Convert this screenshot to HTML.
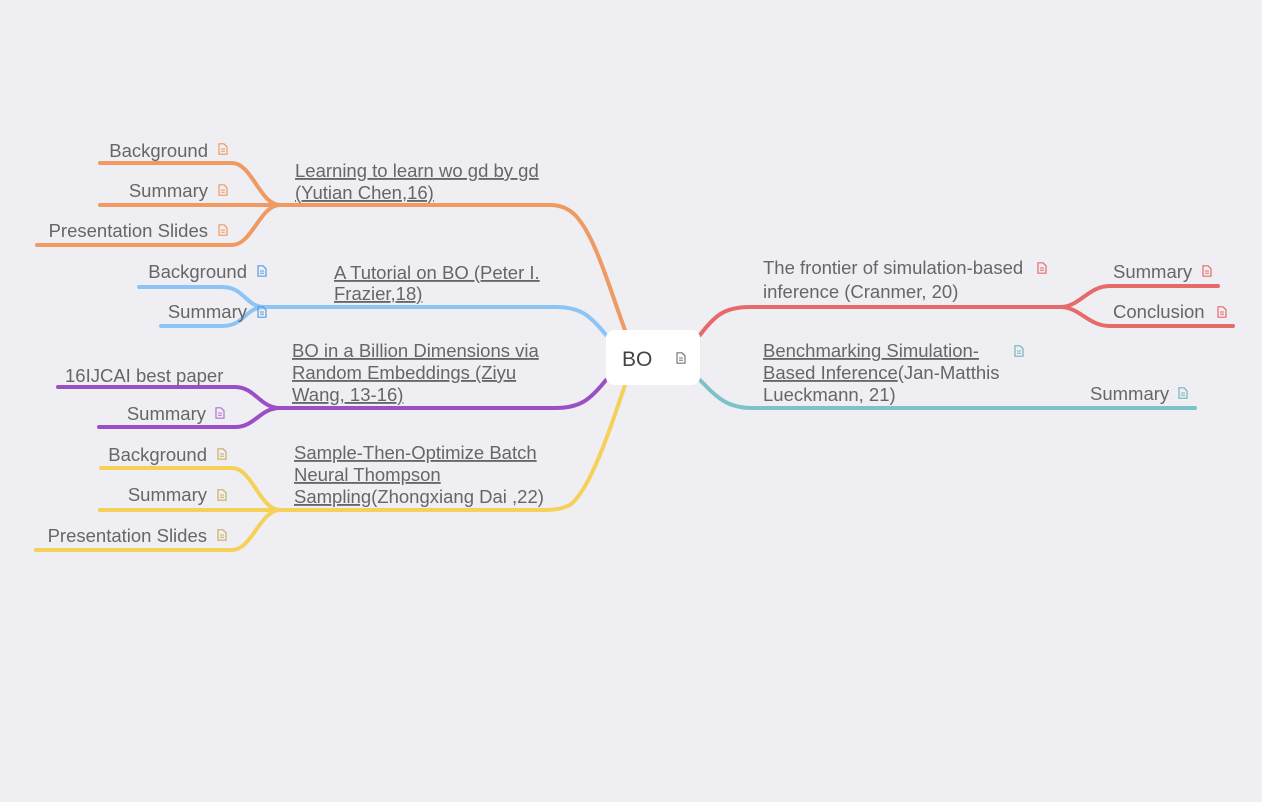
<!DOCTYPE html>
<html><head><meta charset="utf-8"><style>
body{margin:0;background:#efeef3;}
svg{display:block;font-family:"Liberation Sans",sans-serif;}
.t{font-size:18.5px;fill:#666;}
.u{text-decoration:underline;}
.l{fill:none;stroke-width:4;stroke-linecap:round;}
</style></head><body>
<svg width="1262" height="802" viewBox="0 0 1262 802">
<defs>
<symbol id="doc" viewBox="0 0 10 12"><path d="M1,0.8 H6 L9,3.8 V11.2 H1 Z" fill="none" stroke="currentColor" stroke-width="1.2"/><path d="M3,6 H7 M3,8.3 H7" stroke="currentColor" stroke-width="1"/></symbol>
</defs>
<rect width="1262" height="802" fill="#efeef3"/>

<!-- orange -->
<g color="#ef9a62">
<path class="l" stroke="#ef9a62" d="M625,330 C610,290 595,235 575,215 Q565,205 550,205 L100,205"/>
<path class="l" stroke="#ef9a62" d="M280,205 C260,205 252,163 232,163 L100,163"/>
<path class="l" stroke="#ef9a62" d="M280,205 C260,205 252,245 232,245 L37,245"/>
<text class="t u" x="295" y="177">Learning to learn wo gd by gd</text>
<text class="t u" x="295" y="199">(Yutian Chen,16)</text>
<text class="t" x="208" y="157" text-anchor="end">Background</text>
<text class="t" x="208" y="197" text-anchor="end">Summary</text>
<text class="t" x="208" y="237" text-anchor="end">Presentation Slides</text>
<use href="#doc" x="218" y="143" width="10" height="12"/><use href="#doc" x="218" y="184" width="10" height="12"/><use href="#doc" x="218" y="224" width="10" height="12"/>
</g>

<!-- blue -->
<g color="#5b9be0">
<path class="l" stroke="#8cc5f5" d="M606,335 C590,315 580,307 555,307 L265,307"/>
<path class="l" stroke="#8cc5f5" d="M265,307 C245,307 245,287 222,287 L139,287"/>
<path class="l" stroke="#8cc5f5" d="M265,307 C245,307 245,326 222,326 L161,326"/>
<text class="t u" x="334" y="279">A Tutorial on BO (Peter I.</text>
<text class="t u" x="334" y="300">Frazier,18)</text>
<text class="t" x="247" y="278" text-anchor="end">Background</text>
<text class="t" x="247" y="318" text-anchor="end">Summary</text>
<use href="#doc" x="257" y="265" width="10" height="12"/><use href="#doc" x="257" y="306" width="10" height="12"/>
</g>

<!-- purple -->
<g color="#b070d0">
<path class="l" stroke="#9b4fc4" d="M606,380 C590,400 580,408 555,408 L280,408"/>
<path class="l" stroke="#9b4fc4" d="M280,408 C260,408 255,387 235,387 L58,387"/>
<path class="l" stroke="#9b4fc4" d="M280,408 C260,408 255,427 235,427 L99,427"/>
<text class="t u" x="292" y="357">BO in a Billion Dimensions via</text>
<text class="t u" x="292" y="379">Random Embeddings (Ziyu</text>
<text class="t u" x="292" y="401">Wang, 13-16)</text>
<text class="t" x="65" y="382">16IJCAI best paper</text>
<text class="t" x="206" y="420" text-anchor="end">Summary</text>
<use href="#doc" x="215" y="407" width="10" height="12"/>
</g>

<!-- yellow -->
<g color="#c8b060">
<path class="l" stroke="#f5d05a" d="M625,385 C610,430 590,490 570,505 Q560,510 545,510 L100,510"/>
<path class="l" stroke="#f5d05a" d="M280,510 C260,510 252,468 232,468 L101,468"/>
<path class="l" stroke="#f5d05a" d="M280,510 C260,510 252,550 232,550 L36,550"/>
<text class="t u" x="294" y="459">Sample-Then-Optimize Batch</text>
<text class="t u" x="294" y="481">Neural Thompson</text>
<text class="t" x="294" y="503"><tspan class="u">Sampling</tspan>(Zhongxiang Dai ,22)</text>
<text class="t" x="207" y="461" text-anchor="end">Background</text>
<text class="t" x="207" y="501" text-anchor="end">Summary</text>
<text class="t" x="207" y="542" text-anchor="end">Presentation Slides</text>
<use href="#doc" x="217" y="448" width="10" height="12"/><use href="#doc" x="217" y="489" width="10" height="12"/><use href="#doc" x="217" y="529" width="10" height="12"/>
</g>

<!-- red -->
<g color="#e66a6a">
<path class="l" stroke="#e66a6a" d="M700,335 C715,315 725,307 750,307 L1060,307"/>
<path class="l" stroke="#e66a6a" d="M1060,307 C1080,307 1088,286 1110,286 L1218,286"/>
<path class="l" stroke="#e66a6a" d="M1060,307 C1080,307 1088,326 1110,326 L1233,326"/>
<text class="t" x="763" y="274">The frontier of simulation-based</text>
<text class="t" x="763" y="298">inference (Cranmer, 20)</text>
<text class="t" x="1113" y="278">Summary</text>
<text class="t" x="1113" y="318">Conclusion</text>
<use href="#doc" x="1037" y="262" width="10" height="12"/><use href="#doc" x="1202" y="265" width="10" height="12"/><use href="#doc" x="1217" y="306" width="10" height="12"/>
</g>

<!-- teal -->
<g color="#6fb5bb">
<path class="l" stroke="#7dc2c8" d="M700,380 C715,395 725,408 752,408 L1195,408"/>
<text class="t" x="763" y="357"><tspan class="u">Benchmarking Simulation-</tspan></text>
<text class="t" x="763" y="379"><tspan class="u">Based Inference</tspan>(Jan-Matthis</text>
<text class="t" x="763" y="401">Lueckmann, 21)</text>
<text class="t" x="1090" y="400">Summary</text>
<use href="#doc" x="1014" y="345" width="10" height="12"/><use href="#doc" x="1178" y="387" width="10" height="12"/>
</g>

<!-- center -->
<g color="#777">
<rect x="606" y="330" width="94" height="55" rx="8" fill="#fff"/>
<text x="622" y="366" font-size="21" fill="#444">BO</text>
<use href="#doc" x="676" y="352" width="10" height="12"/>
</g>
</svg>
</body></html>
